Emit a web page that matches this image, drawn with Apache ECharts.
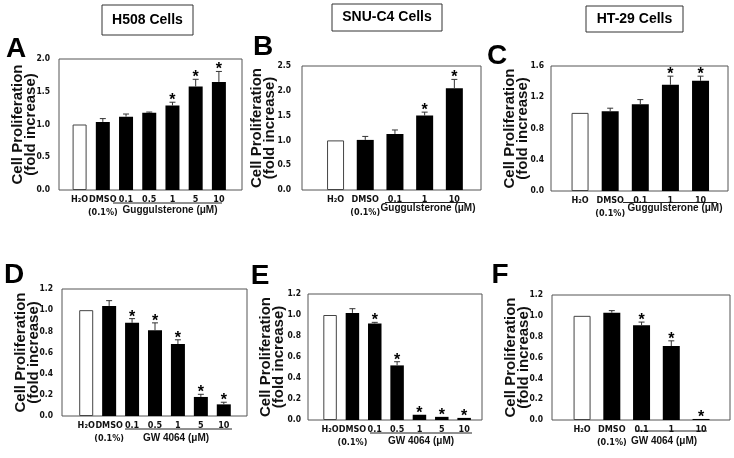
<!DOCTYPE html>
<html>
<head>
<meta charset="utf-8">
<script src="https://cdn.jsdelivr.net/npm/echarts@6/dist/echarts.min.js"></script>
<style>
  html, body { margin: 0; padding: 0; background: #fff; }
  #main { width: 734px; height: 458px; }
</style>
</head>
<body>
<div id="main"></div>
<script>
// categories
var catsGug7 = ['H₂O', 'DMSO', '0.1', '0.5', '1', '5', '10'];
var catsGug5 = ['H₂O', 'DMSO', '0.1', '1', '10'];
var catsGW7 = ['H₂O', 'DMSO', '0.1', '0.5', '1', '5', '10'];
var catsGW5 = ['H₂O', 'DMSO', '0.1', '1', '10'];

// A: H508, guggulsterone
var valsA = [1.00, 1.04, 1.12, 1.18, 1.29, 1.58, 1.65];
var errA  = [0, 0.05, 0.04, 0.01, 0.05, 0.11, 0.16];
var starA = [0, 0, 0, 0, 1, 1, 1];
// B: SNU-C4, guggulsterone
var valsB = [1.00, 1.01, 1.13, 1.50, 2.05];
var errB  = [0, 0.07, 0.08, 0.07, 0.18];
var starB = [0, 0, 0, 1, 1];
// C: HT-29, guggulsterone
var valsC = [1.00, 1.02, 1.11, 1.36, 1.41];
var errC  = [0, 0.04, 0.06, 0.11, 0.06];
var starC = [0, 0, 0, 1, 1];
// D: H508, GW 4064
var valsD = [1.00, 1.04, 0.88, 0.81, 0.68, 0.18, 0.11];
var errD  = [0, 0.05, 0.04, 0.07, 0.04, 0.025, 0.02];
var starD = [0, 0, 1, 1, 1, 1, 1];
// E: SNU-C4, GW 4064
var valsE = [1.00, 1.02, 0.92, 0.52, 0.05, 0.03, 0.02];
var errE  = [0, 0.04, 0.01, 0.035, 0, 0, 0];
var starE = [0, 0, 1, 1, 1, 1, 1];
// F: HT-29, GW 4064
var valsF = [1.00, 1.03, 0.91, 0.71, 0.01];
var errF  = [0, 0.02, 0.03, 0.05, 0];
var starF = [0, 0, 1, 1, 1];

var yMax = { A: 2.0, B: 2.5, C: 1.6, D: 1.2, E: 1.2, F: 1.2 };
var yStep = { A: 0.5, B: 0.5, C: 0.4, D: 0.2, E: 0.2, F: 0.2 };

var COND = "'DejaVu Sans Condensed', 'Liberation Sans', Arial, sans-serif";
var SANS = "'Liberation Sans', Arial, sans-serif";

var panels = [
  { id: 'A', cats: catsGug7, vals: valsA, err: errA, star: starA,
    frame: [59, 59, 183, 131], data: [68, 162.5], bw: 14, lm: 9, ng: 22,
    drug: 'Guggulsterone (μM)', drugX: 170, drugY: 210, line: [113, 222, 203],
    letter: [16, 49], title: 'H508 Cells', box: [102, 5, 91, 30] },
  { id: 'B', cats: catsGug5, vals: valsB, err: errB, star: starB,
    frame: [302, 66, 179, 124], data: [320.7, 148.5], bw: 17, lm: 11, ng: 26,
    drug: 'Guggulsterone (μM)', drugX: 428, drugY: 208, line: [385, 465, 202.5],
    letter: [263, 47], title: 'SNU-C4 Cells', box: [332, 4, 110, 27] },
  { id: 'C', cats: catsGug5, vals: valsC, err: errC, star: starC,
    frame: [551, 66, 177, 125], data: [565, 150.6], bw: 17, lm: 7, ng: 22,
    drug: 'Guggulsterone (μM)', drugX: 675, drugY: 208, line: [623, 717, 202.5],
    letter: [497, 56], title: 'HT-29 Cells', box: [586, 6, 97, 26] },
  { id: 'D', cats: catsGW7, vals: valsD, err: errD, star: starD,
    frame: [62, 289, 185, 127], data: [74.75, 160.5], bw: 14, lm: 9, ng: 22,
    drug: 'GW 4064 (μM)', drugX: 176, drugY: 438, line: [125, 232, 429],
    letter: [14, 275] },
  { id: 'E', cats: catsGW7, vals: valsE, err: errE, star: starE,
    frame: [308, 294, 174, 126], data: [318.9, 156.4], bw: 13.5, lm: 7, ng: 23,
    drug: 'GW 4064 (μM)', drugX: 421, drugY: 441, line: [370, 472, 433],
    letter: [260, 276] },
  { id: 'F', cats: catsGW5, vals: valsF, err: errF, star: starF,
    frame: [552, 295, 178, 125], data: [567.2, 148.7], bw: 17, lm: 9, ng: 22,
    drug: 'GW 4064 (μM)', drugX: 664, drugY: 441, line: [635, 707, 431],
    letter: [500, 275] }
];

function catLabel(v) {
  if (v === 'DMSO') return 'DMSO\n(0.1%)';
  return v;
}

// error bar with cap, plus significance star
function errItem(params, api) {
  var i = api.value(0), v = api.value(1), e = api.value(2), s = api.value(3);
  var base = api.coord([i, v]);
  var top = api.coord([i, v + e]);
  var kids = [];
  if (e > 0) {
    kids.push({ type: 'line', shape: { x1: base[0], y1: base[1], x2: top[0], y2: top[1] },
      style: { stroke: '#333', lineWidth: 1 } });
    kids.push({ type: 'line', shape: { x1: top[0] - 3, y1: top[1], x2: top[0] + 3, y2: top[1] },
      style: { stroke: '#333', lineWidth: 1 } });
  }
  if (s) {
    kids.push({ type: 'text', style: { text: '*', x: top[0], y: top[1] - 1.5,
      align: 'center', verticalAlign: 'middle', font: 'bold 16px ' + SANS, fill: '#000' } });
  }
  return { type: 'group', children: kids };
}

var grids = [], xAxes = [], yAxes = [], series = [], graphics = [];

panels.forEach(function (p, k) {
  var f = p.frame;
  var gf = 2 * k, gd = 2 * k + 1;
  // frame grid carries the box and the y axis; data grid carries the bars
  grids.push({ left: f[0], top: f[1], width: f[2], height: f[3], show: true,
    borderColor: '#555', borderWidth: 1, backgroundColor: 'transparent' });
  grids.push({ left: p.data[0], top: f[1], width: p.data[1], height: f[3] });

  xAxes.push({ gridIndex: gf, type: 'value', show: false });
  xAxes.push({ gridIndex: gd, type: 'category', data: p.cats,
    axisLine: { show: false }, axisTick: { show: false },
    axisLabel: { margin: 3, interval: 0, formatter: catLabel,
      fontFamily: COND, fontWeight: 'bold', fontSize: 9, color: '#111', lineHeight: 13 } });

  yAxes.push({ gridIndex: gf, type: 'value', min: 0, max: yMax[p.id], interval: yStep[p.id],
    axisLine: { show: false }, axisTick: { show: false }, splitLine: { show: false },
    axisLabel: { margin: p.lm, fontFamily: COND, fontWeight: 'bold', fontSize: 8.5, color: '#111',
      formatter: function (v) { return v.toFixed(1); } },
    name: 'Cell Proliferation\n(fold increase)', nameLocation: 'middle', nameGap: p.ng,
    nameMoveOverlap: false,
    nameTextStyle: { fontFamily: SANS, fontWeight: 'bold', fontSize: 15, lineHeight: 13, color: '#111' } });
  yAxes.push({ gridIndex: gd, type: 'value', min: 0, max: yMax[p.id], show: false });

  series.push({ type: 'bar', xAxisIndex: gd, yAxisIndex: gd, barWidth: p.bw,
    data: p.vals.map(function (v, i) {
      return i === 0
        ? { value: v, itemStyle: { color: '#fff', borderColor: '#444', borderWidth: 1 } }
        : { value: v, itemStyle: { color: '#000' } };
    }) });
  series.push({ type: 'custom', xAxisIndex: gd, yAxisIndex: gd, renderItem: errItem,
    encode: { x: 0, y: 1 }, z: 5,
    data: p.vals.map(function (v, i) { return [i, v, p.err[i], p.star[i]]; }) });

  graphics.push({ type: 'line', shape: { x1: p.line[0], y1: p.line[2], x2: p.line[1], y2: p.line[2] },
    style: { stroke: '#222', lineWidth: 1 } });
  graphics.push({ type: 'text', x: p.drugX, y: p.drugY,
    style: { text: p.drug, align: 'center', verticalAlign: 'middle',
      font: 'bold 10px ' + SANS, fill: '#111' } });
  graphics.push({ type: 'text', x: p.letter[0], y: p.letter[1],
    style: { text: p.id, align: 'center', verticalAlign: 'middle',
      font: 'bold 28px ' + SANS, fill: '#000' } });
  if (p.title) {
    var b = p.box;
    graphics.push({ type: 'rect', shape: { x: b[0], y: b[1], width: b[2], height: b[3] },
      style: { fill: '#fff', stroke: '#333', lineWidth: 1 } });
    graphics.push({ type: 'text', x: b[0] + b[2] / 2, y: b[1] + b[3] / 2,
      style: { text: p.title, align: 'center', verticalAlign: 'middle',
        font: 'bold 14px ' + SANS, fill: '#000' } });
  }
});

var myChart = echarts.init(document.getElementById('main'));
myChart.setOption({
  animation: false,
  backgroundColor: '#fff',
  grid: grids,
  xAxis: xAxes,
  yAxis: yAxes,
  series: series,
  graphic: graphics
});
</script>
</body>
</html>
